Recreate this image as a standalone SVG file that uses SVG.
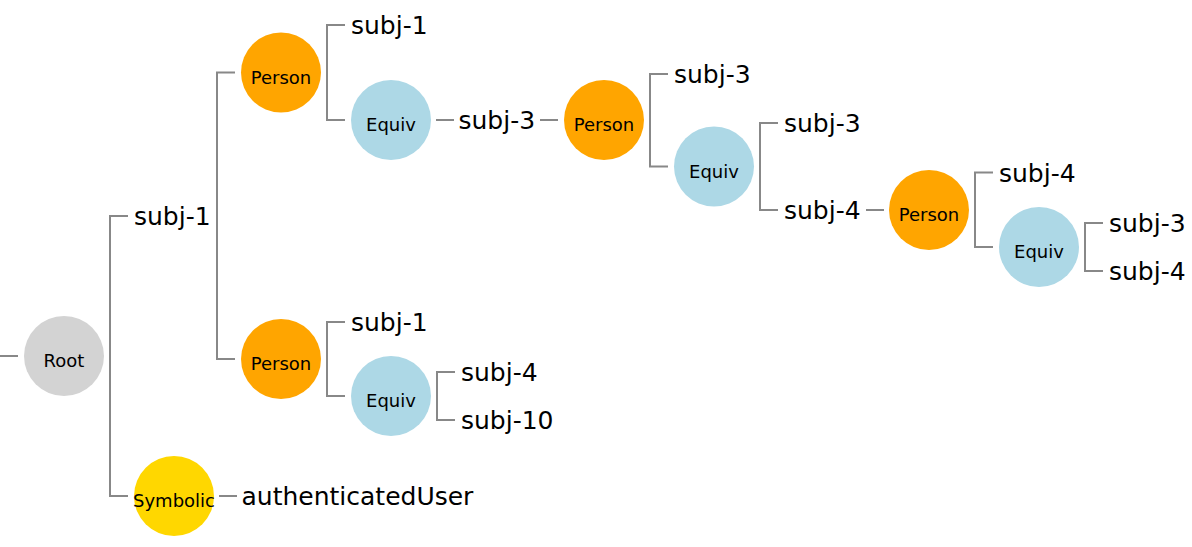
<svg xmlns="http://www.w3.org/2000/svg" width="1192" height="547" viewBox="0 0 1192 547">
<style>
.link{fill:none;stroke:#888888;stroke-width:2}
.nl{font-family:"DejaVu Sans",Verdana,sans-serif;font-size:18px;fill:#000;text-anchor:middle}
.el{font-family:"DejaVu Sans",Verdana,sans-serif;font-size:25px;fill:#000}
.root{fill:#d3d3d3}
.person{fill:#ffa500}
.equiv{fill:#add8e6}
.sym{fill:#ffd700}
</style>
<rect width="1192" height="547" fill="#ffffff"/>
<g id="connectors">
<path class="link" d="M0,356H18"/>
<path class="link" d="M128,216H110V496H128"/>
<path class="link" d="M235,72.5H217V359H235"/>
<path class="link" d="M345,25H327V120H345"/>
<path class="link" d="M436,120H454"/>
<path class="link" d="M540,120H558"/>
<path class="link" d="M668,74H650V166.5H668"/>
<path class="link" d="M778,123H760V210H778"/>
<path class="link" d="M866,210H884"/>
<path class="link" d="M993,172.5H975V247H993"/>
<path class="link" d="M1103,223H1085V271H1103"/>
<path class="link" d="M345,322H327V396H345"/>
<path class="link" d="M455,372H437V420H455"/>
<path class="link" d="M219,496H237"/>
</g>
<g id="root"><circle class="root" cx="64" cy="356" r="40"/><text class="nl" x="64" y="367">Root</text></g>
<g id="l-subj1-root"><text class="el" x="134" y="225">subj-1</text></g>
<g id="person1"><circle class="person" cx="281" cy="72.5" r="40"/><text class="nl" x="281" y="83.5">Person</text></g>
<g id="l-subj1-p1"><text class="el" x="351" y="34">subj-1</text></g>
<g id="equiv1"><circle class="equiv" cx="391" cy="120" r="40"/><text class="nl" x="391" y="131">Equiv</text></g>
<g id="l-subj3-e1"><text class="el" x="458.5" y="129">subj-3</text></g>
<g id="person2"><circle class="person" cx="604" cy="120" r="40"/><text class="nl" x="604" y="131">Person</text></g>
<g id="l-subj3-p2"><text class="el" x="674" y="83">subj-3</text></g>
<g id="equiv2"><circle class="equiv" cx="714" cy="166.5" r="40"/><text class="nl" x="714" y="177.5">Equiv</text></g>
<g id="l-subj3-e2"><text class="el" x="784" y="132">subj-3</text></g>
<g id="l-subj4-e2"><text class="el" x="784" y="219">subj-4</text></g>
<g id="person3"><circle class="person" cx="929" cy="210" r="40"/><text class="nl" x="929" y="221">Person</text></g>
<g id="l-subj4-p3"><text class="el" x="999" y="181.5">subj-4</text></g>
<g id="equiv3"><circle class="equiv" cx="1039" cy="247" r="40"/><text class="nl" x="1039" y="258">Equiv</text></g>
<g id="l-subj3-e3"><text class="el" x="1109" y="232">subj-3</text></g>
<g id="l-subj4-e3"><text class="el" x="1109" y="280">subj-4</text></g>
<g id="person4"><circle class="person" cx="281" cy="359" r="40"/><text class="nl" x="281" y="370">Person</text></g>
<g id="l-subj1-p4"><text class="el" x="351" y="331">subj-1</text></g>
<g id="equiv4"><circle class="equiv" cx="391" cy="396" r="40"/><text class="nl" x="391" y="407">Equiv</text></g>
<g id="l-subj4-e4"><text class="el" x="461" y="381">subj-4</text></g>
<g id="l-subj10-e4"><text class="el" x="461" y="429">subj-10</text></g>
<g id="symbolic"><circle class="sym" cx="174" cy="496" r="40"/><text class="nl" x="174" y="507">Symbolic</text></g>
<g id="l-authuser"><text class="el" x="241.5" y="505">authenticatedUser</text></g>
</svg>
